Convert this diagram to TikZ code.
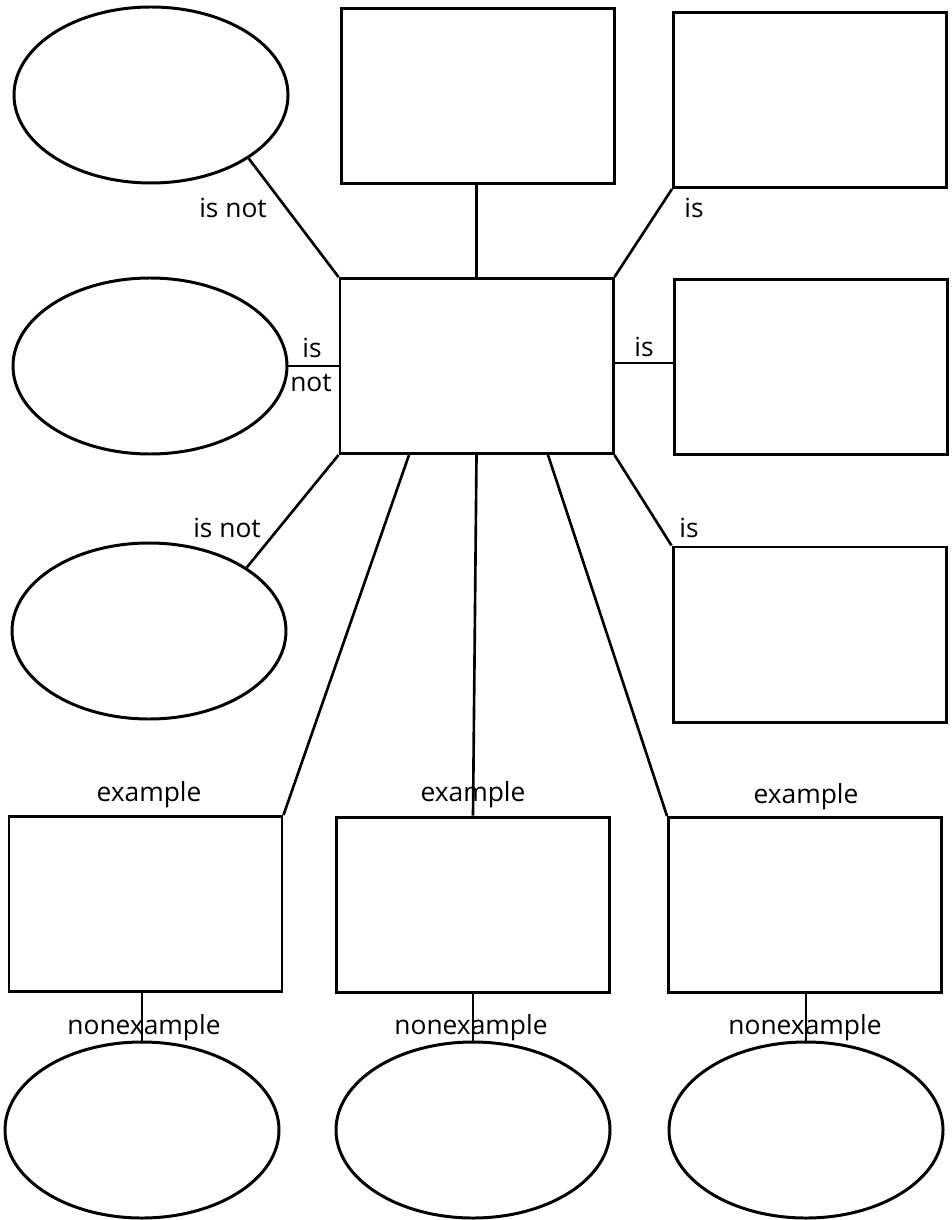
\documentclass[tikz,border=0pt]{standalone}
\usepackage{fontspec}
\setmainfont{Open Sans}
\usepackage{tikz}
\usetikzlibrary{shapes.geometric}

\begin{document}
\begin{tikzpicture}[
  x=1cm,y=1cm,
  box/.style={draw, line width=1.7pt, minimum width=5.46cm, minimum height=3.5cm, inner sep=0pt},
  oval/.style={draw, ellipse, line width=1.7pt, minimum width=5.48cm, minimum height=3.52cm, inner sep=0pt},
  lbl/.style={font=\fontsize{15}{17}\selectfont, inner sep=1pt},
  link/.style={line width=1.5pt}
]
\useasboundingbox (0,0) rectangle (19.02,-24.4);
% concept in the middle
\node[box] (concept) at (9.53,-7.32) {};
\node[box] (topmid) at (9.56,-1.92) {};
\node[box] (topright) at (16.2,-2.0) {};
\node[box] (midright) at (16.21,-7.34) {};
\node[box] (lowright) at (16.19,-12.69) {};
\node[oval] (topleft) at (3.02,-1.9) {};
\node[oval] (midleft) at (3.0,-7.32) {};
\node[oval] (lowleft) at (2.98,-12.62) {};
% examples and nonexamples
\node[box] (exleft) at (2.91,-18.08) {};
\node[box] (exmid) at (9.46,-18.09) {};
\node[box] (exright) at (16.1,-18.1) {};
\node[oval] (nonleft) at (2.84,-22.6) {};
\node[oval] (nonmid) at (9.46,-22.6) {};
\node[oval] (nonright) at (16.12,-22.6) {};
\draw[link] (concept.north) -- (concept.north |- topmid.south);
\draw[link] (concept.north west) -- (topleft.-33);
\draw[link] (concept.west) -- (midleft.east);
\draw[link] (concept.south west) -- (lowleft.33);
\draw[link] (concept.north east) -- (topright.south west);
\draw[link] ([yshift=0.06cm]concept.east) -- ([yshift=0.06cm]concept.east -| midright.west);
\draw[link] (concept.south east) -- (lowright.north west);
\draw[link] ([xshift=-1.35cm]concept.south) -- (exleft.north east);
\draw[link] (concept.south) -- (exmid.north);
\draw[link] ([xshift=1.43cm]concept.south) -- (exright.north west);
\draw[link] (nonleft.north) -- (nonleft.north |- exleft.south);
\draw[link] (nonmid.north) -- (nonmid.north |- exmid.south);
\draw[link] (nonright.north) -- (nonright.north |- exright.south);
\node[lbl] (isnot1) at (4.66,-4.16) {is not};
\node[lbl] (isnot2a) at (6.24,-6.96) {is};
\node[lbl] (isnot2b) at (6.22,-7.66) {not};
\node[lbl] (isnot3) at (4.54,-10.56) {is not};
\node[lbl] (is1) at (13.88,-4.16) {is};
\node[lbl] (is2) at (12.88,-6.94) {is};
\node[lbl] (is3) at (13.78,-10.56) {is};
\node[lbl] (ex1) at (2.98,-15.9) {example};
\node[lbl] (ex2) at (9.46,-15.9) {example};
\node[lbl] (ex3) at (16.12,-15.94) {example};
\node[lbl] (non1) at (2.88,-20.56) {nonexample};
\node[lbl] (non2) at (9.42,-20.56) {nonexample};
\node[lbl] (non3) at (16.1,-20.56) {nonexample};
\end{tikzpicture}
\end{document}
